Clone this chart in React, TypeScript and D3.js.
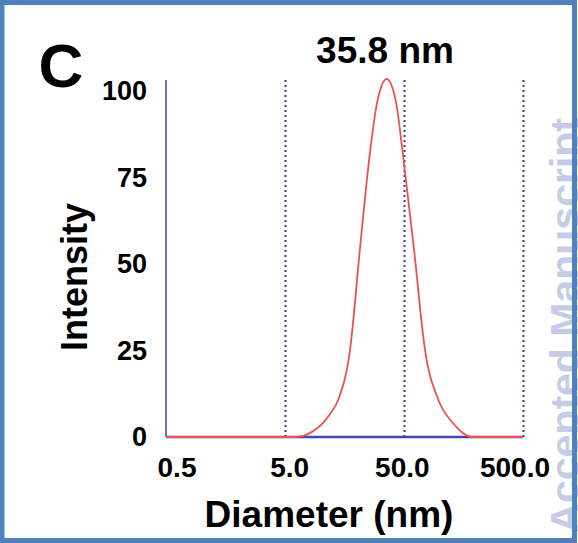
import * as d3 from 'd3';

// size distribution
const DIAMETERS = [0.5, 6.0, 7.1, 8.5, 10.4, 12.0, 14.0, 17.6, 21.3, 25.9, 29.8, 35.8, 42.8, 48.7, 60.7, 75.0, 97.1, 129, 155, 185, 500];
const INTENSITY = [0, 0, 0.3, 1.5, 3.9, 6.5, 10.4, 24.4, 52.4, 79.6, 93.6, 100, 93.6, 79.6, 52.4, 24.4, 10.4, 3.9, 1.2, 0, 0];

const X_TICKS = [0.5, 5, 50, 500];
const X_TICK_LABELS = ['0.5', '5.0', '50.0', '500.0'];
const GRID_AT = [5, 50, 500];
const Y_TICKS = [0, 25, 50, 75, 100];

const FONT = '"Liberation Sans", Arial, Helvetica, sans-serif';

const App = () => {
  const width = 578;
  const height = 543;

  const x = d3.scaleLog().domain([0.5, 500]).range([166, 523]);
  const y = d3.scaleLinear().domain([0, 100]).range([437, 79]);
  // labels in the figure sit on their own spacing
  const xLabel = d3.scaleLog().domain([0.5, 500]).range([177, 515]);
  const yLabel = d3.scaleLinear().domain([0, 100]).range([437, 91]);

  const points = DIAMETERS.map((d, i) => [d, INTENSITY[i]] as [number, number]);
  const line = d3.line<[number, number]>()
    .x(d => x(d[0]))
    .y(d => y(d[1]))
    .curve(d3.curveMonotoneX);

  return (
    <svg width={width} height={height}
      style={{ position: 'absolute', left: 0, top: 0, background: '#fff', fontFamily: FONT }}>

      {/* GRID */}
      {GRID_AT.map(g => (
        <line key={g} x1={Math.round(x(g)) + 0.5} x2={Math.round(x(g)) + 0.5} y1={y(100) + 1} y2={y(0)}
          stroke="#3c3c8a" strokeWidth={2} strokeDasharray="2,3" />
      ))}

      {/* AXES */}
      <line x1={x(0.5)} x2={x(0.5)} y1={y(100) + 1} y2={y(0)} stroke="#7070b8" strokeWidth={2} />
      <line x1={x(0.5)} x2={x(500)} y1={y(0)} y2={y(0)} stroke="#4646ac" strokeWidth={2.5} />

      {/* CURVE */}
      <path d={line(points) || ''} fill="none" stroke="#f05050" strokeWidth={1.8} />

      {/* TICK LABELS */}
      {Y_TICKS.map(t => (
        <text key={t} x={147} y={yLabel(t)} dy="0.35em" textAnchor="end"
          fontSize={27} fontWeight="bold" fill="#000">{t}</text>
      ))}
      {X_TICKS.map((t, i) => (
        <text key={t} x={xLabel(t)} y={477} textAnchor="middle"
          fontSize={28} fontWeight="bold" fill="#000">{X_TICK_LABELS[i]}</text>
      ))}

      {/* TITLES */}
      <text x={61} y={87} textAnchor="middle" fontSize={62} fontWeight="bold" fill="#000">C</text>
      <text x={385} y={63} textAnchor="middle" fontSize={37} fontWeight="bold" fill="#000">35.8 nm</text>
      <text x={329} y={527} textAnchor="middle" fontSize={37} fontWeight="bold" fill="#000">Diameter (nm)</text>
      <text transform="translate(87,277) rotate(-90)" textAnchor="middle"
        fontSize={36} fontWeight="bold" fill="#000">Intensity</text>

      {/* WATERMARK */}
      <text transform="translate(579,118) rotate(-90)" textAnchor="end"
        fontSize={41} fontWeight="bold" fill="#c8cbe6">Accepted Manuscript</text>

      {/* FRAME */}
      <rect x={2} y={2.5} width={572.5} height={538} fill="none" stroke="#4f81bd" strokeWidth={5} />
    </svg>
  );
};

export default App;
